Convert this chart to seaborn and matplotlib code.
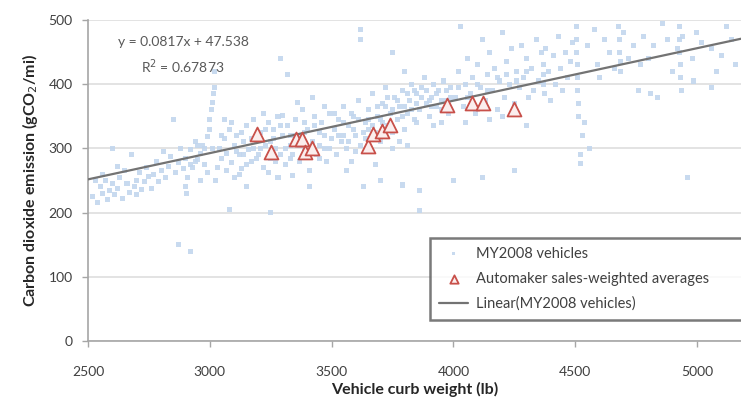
import numpy as np
import pandas as pd
import seaborn as sns
import matplotlib.pyplot as plt

# MY2008 vehicles (lb, gCO2/mi)
w_2500 = [2520, 2540, 2550, 2560, 2570, 2580, 2590, 2600, 2600, 2610, 2620, 2630, 2640, 2650, 2660,
          2670, 2680, 2690, 2700, 2700, 2710, 2720, 2730, 2740, 2750, 2760, 2770, 2560, 2530, 2620]
c_2500 = [225, 215, 240, 230, 250, 220, 235, 300, 245, 228, 238, 255, 222, 265, 245,
          232, 290, 240, 250, 228, 262, 236, 248, 270, 256, 238, 260, 260, 250, 272]

w_2800 = [2780, 2790, 2800, 2810, 2820, 2830, 2840, 2850, 2860, 2870, 2870, 2880, 2890, 2900, 2900,
          2905, 2910, 2920, 2920, 2930, 2940, 2950, 2960, 2970, 2980, 2990, 3000, 3000, 3005, 3010,
          3010, 3015, 3020, 3020, 2990, 2960, 2940]
c_2800 = [280, 248, 265, 295, 255, 272, 288, 345, 262, 150, 278, 300, 268, 285, 240,
          230, 255, 140, 298, 270, 310, 282, 292, 305, 275, 318, 330, 345, 360, 372,
          300, 385, 420, 395, 262, 250, 280]

w_3000 = [3030, 3040, 3050, 3060, 3070, 3080, 3090, 3100, 3110, 3120, 3130, 3140, 3150, 3160, 3170,
          3180, 3190, 3200, 3210, 3220, 3230, 3240, 3250, 3250, 3260, 3270, 3280, 3290, 3290, 3300,
          3310, 3320, 3320, 3330, 3340, 3350, 3360, 3370, 3380, 3390, 3400, 3410, 3420, 3430, 3440,
          3450, 3460, 3470, 3480, 3490, 3500, 3060, 3120, 3180, 3240, 3300, 3360, 3420, 3470, 3140,
          3200, 3260, 3330, 3390, 3450, 3100, 3220, 3280, 3410, 3150, 3080, 3340]
c_3000 = [270, 300, 285, 315, 292, 330, 278, 305, 320, 290, 268, 310, 335, 298, 280,
          345, 312, 290, 325, 270, 305, 340, 200, 285, 315, 300, 350, 440, 290, 320,
          275, 415, 335, 305, 290, 345, 318, 280, 360, 300, 330, 265, 310, 350, 290,
          325, 340, 300, 280, 355, 315, 345, 260, 300, 262, 352, 372, 380, 365, 290,
          320, 330, 320, 340, 305, 255, 355, 255, 240, 240, 205, 258]

w_3500 = [3510, 3520, 3530, 3540, 3550, 3560, 3570, 3580, 3590, 3600, 3610, 3620, 3620, 3620, 3630,
          3640, 3650, 3660, 3670, 3680, 3690, 3700, 3700, 3710, 3720, 3730, 3740, 3750, 3750, 3760,
          3770, 3780, 3790, 3790, 3800, 3800, 3810, 3820, 3830, 3840, 3850, 3860, 3860, 3870, 3880,
          3890, 3900, 3910, 3920, 3930, 3940, 3950, 3960, 3970, 3980, 3990, 3860, 3550, 3600, 3650,
          3700, 3750, 3800, 3850, 3900, 3950, 3580, 3640, 3720, 3780, 3840, 3920, 3680, 3560, 3810]
c_3500 = [330, 290, 345, 310, 365, 300, 335, 280, 350, 320, 375, 485, 470, 305, 240,
          340, 360, 295, 385, 325, 350, 250, 310, 370, 395, 335, 355, 450, 300, 380,
          345, 365, 243, 390, 420, 330, 355, 375, 400, 345, 385, 235, 360, 395, 410,
          370, 350, 380, 400, 365, 390, 340, 405, 375, 355, 395, 204, 320, 295, 330,
          345, 325, 365, 340, 375, 360, 355, 315, 365, 310, 390, 335, 275, 265, 305]

# the dense middle of the cloud
w_dense = [3050, 3070, 3090, 3110, 3130, 3150, 3170, 3190, 3210, 3230, 3250, 3270, 3290, 3310, 3330,
           3350, 3370, 3390, 3410, 3430, 3450, 3470, 3490, 3510, 3530, 3550, 3570, 3590, 3610, 3630,
           3650, 3670, 3690, 3710, 3730, 3750, 3770, 3790, 3810, 3830, 3850, 3870, 3890, 3910, 3930,
           3950, 3970, 3990, 3025, 2980, 2950, 2920, 4020, 4060, 4100, 4140, 4180, 4220, 4260, 4300]
c_dense = [320, 265, 340, 295, 325, 275, 315, 285, 300, 330, 310, 280, 335, 300, 285,
           320, 305, 325, 295, 335, 285, 320, 300, 355, 320, 340, 310, 330, 345, 325,
           345, 335, 365, 340, 380, 360, 375, 350, 385, 360, 370, 380, 390, 365, 385,
           375, 390, 380, 250, 300, 305, 275, 395, 380, 400, 390, 410, 415, 405, 420]

w_4000 = [4000, 4010, 4020, 4030, 4040, 4050, 4060, 4070, 4080, 4090, 4100, 4110, 4120, 4120, 4130,
          4140, 4150, 4160, 4170, 4180, 4190, 4200, 4210, 4220, 4230, 4240, 4250, 4250, 4260, 4270,
          4280, 4290, 4300, 4310, 4320, 4330, 4340, 4350, 4360, 4370, 4370, 4370, 4375, 4380, 4390,
          4400, 4410, 4420, 4430, 4440, 4450, 4460, 4470, 4480, 4490, 4050, 4150, 4300, 4200]
c_4000 = [250, 380, 420, 490, 365, 400, 440, 385, 410, 355, 430, 395, 255, 470, 375,
          415, 450, 390, 425, 360, 405, 480, 380, 435, 400, 455, 265, 370, 420, 395,
          460, 410, 440, 380, 425, 390, 470, 405, 450, 430, 415, 400, 385, 455, 420,
          375, 445, 400, 475, 425, 390, 450, 410, 435, 465, 340, 345, 335, 350]

w_4500 = [4505, 4505, 4505, 4508, 4510, 4510, 4512, 4515, 4520, 4520, 4530, 4540, 4550, 4560, 4580,
          4590, 4600, 4620, 4640, 4660, 4680, 4684, 4684, 4686, 4688, 4700, 4720, 4740, 4760, 4770,
          4780, 4800, 4810, 4820, 4840, 4860, 4880, 4900, 4920, 4930, 4930, 4930, 4932, 4934, 4935,
          4940, 4963, 4983, 4985, 5000, 5020, 5060, 5080, 5100, 5120, 5140, 5160, 5060]
c_4500 = [490, 470, 450, 430, 410, 390, 370, 350, 290, 277, 320, 340, 460, 300, 485,
          430, 410, 470, 450, 425, 490, 470, 450, 435, 420, 480, 440, 460, 390, 430,
          475, 440, 385, 460, 380, 495, 470, 420, 455, 490, 470, 450, 430, 410, 390,
          475, 255, 440, 405, 480, 465, 455, 420, 445, 490, 470, 430, 395]

# automaker sales-weighted averages
avg_weight = [3195, 3250, 3352, 3378, 3391, 3420, 3650, 3668, 3705, 3740, 3972, 4077, 4121, 4248]
avg_co2 = [323, 295, 314, 314, 295, 301, 304, 323, 327, 336, 367, 370, 370, 362]

# Excel trendline shown on the chart
slope = 0.0817
intercept = 47.538

vehicles = pd.DataFrame({
    'weight': w_2500 + w_2800 + w_3000 + w_dense + w_3500 + w_4000 + w_4500,
    'co2': c_2500 + c_2800 + c_3000 + c_dense + c_3500 + c_4000 + c_4500,
})
averages = pd.DataFrame({'weight': avg_weight, 'co2': avg_co2})

sns.set_theme(style='white')
plt.rcParams['font.family'] = ['Lato', 'DejaVu Sans']

fig = plt.figure(figsize=(7.41, 4.05), dpi=100)
ax = fig.add_axes([0.1188, 0.158, 0.8812, 0.7926])

xlim = (2500, 5181)
ax.set_xlim(*xlim)
ax.set_ylim(0, 500)
ax.set_yticks(np.arange(0, 501, 100))
ax.set_xticks(np.arange(2500, 5001, 500))
ax.yaxis.grid(True, color='#dedede', linewidth=1.2)
ax.set_axisbelow(True)

sns.scatterplot(data=vehicles, x='weight', y='co2', ax=ax, marker='s', s=13,
                color='#c2d6ee', edgecolor='none', alpha=0.9, label='MY2008 vehicles', zorder=2)
sns.scatterplot(data=averages, x='weight', y='co2', ax=ax, marker='^', s=100,
                facecolor='#fbeeee', edgecolor='#c8504a', linewidth=1.3,
                label='Automaker sales-weighted averages', zorder=4)
line_x = np.array(xlim)
sns.lineplot(x=line_x, y=slope * line_x + intercept, ax=ax, color='#737373', linewidth=1.6,
             label='Linear(MY2008 vehicles)', zorder=3)

ax.text(2890, 466, f'y = {slope}x + {intercept}', ha='center', va='center', fontsize=10, color='#595959')
ax.text(2890, 428, 'R$^2$ = 0.67873', ha='center', va='center', fontsize=10, color='#595959')

for side in ['top', 'right']:
    ax.spines[side].set_visible(False)
for side in ['left', 'bottom']:
    ax.spines[side].set_color('#a6a6a6')
    ax.spines[side].set_linewidth(1.2)
ax.tick_params(axis='both', which='major', length=4, width=1, color='#a6a6a6',
               labelsize=10, labelcolor='#404040', direction='out', left=True, bottom=True)
ax.tick_params(axis='y', pad=7)
ax.tick_params(axis='x', pad=14)

ax.set_xlabel('Vehicle curb weight (lb)', fontsize=11.5, fontweight='bold', color='#262626', labelpad=3)
ax.set_ylabel('Carbon dioxide emission (gCO$_2$/mi)', fontsize=11.5, fontweight='bold', color='#262626', labelpad=6)

# legend box runs off the right edge like the original
leg = ax.legend(loc='lower left', bbox_to_anchor=(0.513, 0.044, 0.53, 0.26), mode='expand',
                fontsize=10.5, frameon=True, fancybox=False, edgecolor='#595959',
                borderpad=0.6, labelspacing=0.75, handlelength=2.0, handletextpad=0.5,
                markerscale=0.6)
leg.get_frame().set_linewidth(1.8)
for t in leg.get_texts():
    t.set_color('#404040')

plt.savefig('out.png', dpi=100)
